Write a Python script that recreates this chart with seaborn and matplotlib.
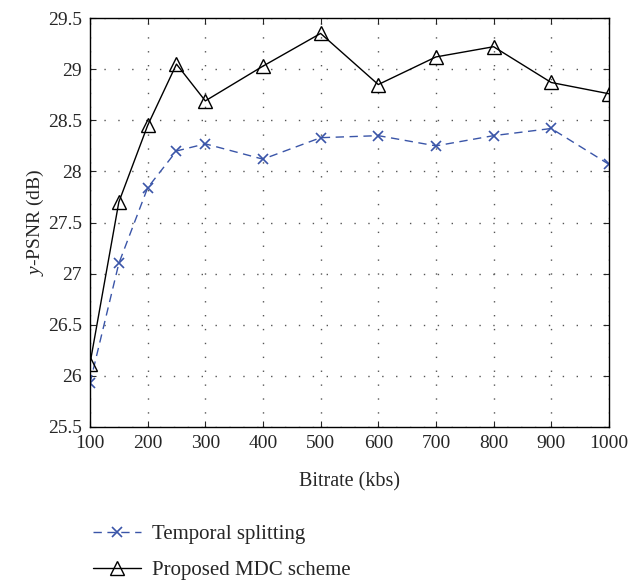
import matplotlib
matplotlib.use('Agg')
import numpy as np
import pandas as pd
import seaborn as sns
import matplotlib.pyplot as plt

sns.set_style('ticks')
plt.rcParams['font.family'] = ['Liberation Serif', 'DejaVu Serif']
plt.rcParams['mathtext.fontset'] = 'custom'
plt.rcParams['mathtext.it'] = 'Liberation Serif:italic'
plt.rcParams['mathtext.rm'] = 'Liberation Serif'

bitrate = [100, 150, 200, 250, 300, 400, 500, 600, 700, 800, 900, 1000]
temporal = [25.93, 27.10, 27.84, 28.20, 28.27, 28.12, 28.33, 28.35, 28.25, 28.35, 28.42, 28.07]
mdc = [26.12, 27.70, 28.45, 29.05, 28.69, 29.03, 29.35, 28.85, 29.12, 29.22, 28.87, 28.76]
xticks = [100, 200, 300, 400, 500, 600, 700, 800, 900, 1000]
yticks = [25.5, 26, 26.5, 27, 27.5, 28, 28.5, 29, 29.5]

# tick labels sit at equal spacing, so the axis is piecewise linear
idx = np.arange(len(xticks), dtype=float)
fwd = lambda v: np.interp(v, xticks, idx)
inv = lambda v: np.interp(v, idx, xticks)

df = pd.DataFrame({'bitrate': bitrate, 'temporal': temporal, 'mdc': mdc})

fig = plt.figure(figsize=(6.32, 5.8), dpi=100)
ax = fig.add_axes([0.1424, 0.2638, 0.821, 0.705])
ax.set_xscale('function', functions=(fwd, inv))

blue = '#3a55a8'
sns.lineplot(data=df, x='bitrate', y='temporal', ax=ax, color=blue,
             linestyle=(0, (6, 4)), lw=1.0, marker='x', markersize=7,
             markeredgecolor=blue, markeredgewidth=1.2,
             label='Temporal splitting')
sns.lineplot(data=df, x='bitrate', y='mdc', ax=ax, color='black',
             lw=1.0, marker='^', markersize=10, markerfacecolor='none',
             markeredgecolor='black', markeredgewidth=1.0,
             label='Proposed MDC scheme')

ax.set_xlim(100, 1000)
ax.set_ylim(25.5, 29.5)
ax.set_xticks(xticks)
ax.set_xticklabels([str(t) for t in xticks])
ax.set_yticks(yticks)
ax.set_yticklabels(['%g' % t for t in yticks])
ax.minorticks_off()
ax.grid(True, linestyle=(0, (1, 9)), color='#555555', lw=1.0)
ax.tick_params(direction='in', top=True, right=True, labelsize=14, length=4, pad=6)
for s in ax.spines.values():
    s.set_linewidth(1.0)
    s.set_color('black')
ax.set_xlabel('Bitrate (kbs)', fontsize=14.5, labelpad=14)
ax.set_ylabel('$y$-PSNR (dB)', fontsize=14, labelpad=1)

ax.legend(loc='upper left', bbox_to_anchor=(0.118, 0.128), bbox_transform=fig.transFigure,
          frameon=False, fontsize=15, handlelength=2.3, handletextpad=0.5,
          labelspacing=0.8)

fig.savefig('out.png', dpi=100)
